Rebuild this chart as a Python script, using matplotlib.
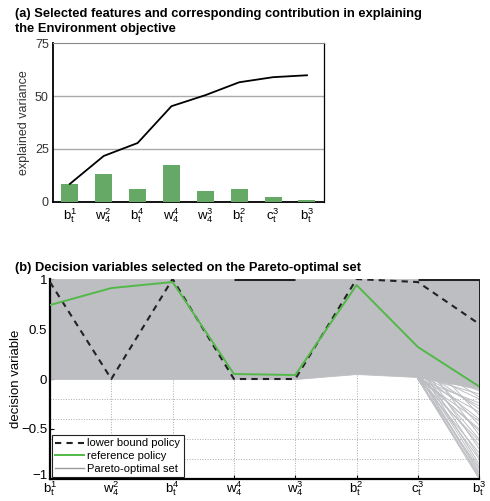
import numpy as np
import matplotlib
matplotlib.use("Agg")
import matplotlib.pyplot as plt
import matplotlib.transforms as mtransforms
from matplotlib.lines import Line2D

plt.rcParams['font.family'] = ['Liberation Sans', 'DejaVu Sans']
plt.rcParams['mathtext.fontset'] = 'custom'
plt.rcParams['mathtext.rm'] = 'Liberation Sans'
plt.rcParams['mathtext.it'] = 'Liberation Sans'

# ---- data -------------------------------------------------------------
features = [r'$\mathrm{b}_t^1$', r'$\mathrm{w}_4^2$', r'$\mathrm{b}_t^4$', r'$\mathrm{w}_4^4$',
            r'$\mathrm{w}_4^3$', r'$\mathrm{b}_t^2$', r'$\mathrm{c}_t^3$', r'$\mathrm{b}_t^3$']
contribution = [8.5, 13.2, 6.1, 17.4, 5.2, 6.1, 2.4, 0.9]

lower_bound = [0.97, 0.0, 1.0, 0.0, 0.0, 1.0, 0.97, 0.55]
reference = [0.74, 0.91, 0.97, 0.05, 0.04, 0.94, 0.32, -0.075]

# envelope of the Pareto-optimal set (dense part)
pareto_upper = [1, 1, 1, 1, 1, 1, 1, 1]
pareto_lower = [0.0, 0.0, 0.0, 0.0, 0.0, 0.05, 0.02, -0.1]
# sparse fan of Pareto lines between c_t^3 and b_t^3
fan_start = [0.0, 0.02, 0.05, 0.0, 0.08, 0.12, 0.03, 0.15, 0.01, 0.2, 0.06, 0.0,
             0.1, 0.25, 0.04, 0.02, 0.18, 0.0, 0.07, 0.3, 0.01, 0.12, 0.05, 0.0,
             0.09, 0.22, 0.03, 0.14, 0.0, 0.06]
fan_end = [-1.0, -0.98, -0.95, -0.9, -0.88, -0.85, -0.8, -0.78, -0.74, -0.7, -0.66,
           -0.62, -0.6, -0.56, -0.52, -0.5, -0.46, -0.42, -0.4, -0.36, -0.33, -0.3,
           -0.27, -0.24, -0.2, -0.18, -0.15, -0.12, -0.97, -0.93]
# segments where many solutions sit on the upper bound
saturated = [(4, 5), (7, 8)]

bar_green = '#66a866'
line_green = '#52b848'
pareto_gray = '#bdbec2'

fig = plt.figure(figsize=(4.9, 5.01), dpi=100)

# ---- (a) --------------------------------------------------------------
ax1 = fig.add_axes([0.108, 0.597, 0.553, 0.317])
pos = np.arange(1, len(features) + 1)
ax1.bar(pos, contribution, width=0.5, color=bar_green, zorder=3)
ax1.plot(pos, np.cumsum(contribution), color='black', lw=1.3, zorder=4)
ax1.set_xlim(0.5, 8.5)
ax1.set_ylim(0, 75)
ax1.set_yticks([0, 25, 50, 75])
ax1.set_xticks(pos)
ax1.set_xticklabels(features, fontsize=9.5)
ax1.tick_params(axis='y', labelsize=9, labelcolor='#333333', length=0, pad=3)
ax1.tick_params(axis='x', length=0, pad=3)
for yv in [25, 50]:
    ax1.axhline(yv, color='#aaaaaa', lw=1, zorder=1)
ax1.spines['top'].set_color('#888888')
ax1.spines['left'].set_linewidth(1.3)
ax1.spines['bottom'].set_linewidth(1.3)
ax1.spines['right'].set_linewidth(0.9)
ax1.set_ylabel('explained variance', fontsize=9, color='#333333')
ax1.yaxis.set_label_coords(-0.085, 0.5)
fig.text(0.03, 0.984, '(a) Selected features and corresponding contribution in explaining\nthe Environment objective',
         fontsize=9.3, fontweight='bold', va='top', ha='left', linespacing=1.3)

# ---- (b) --------------------------------------------------------------
ax2 = fig.add_axes([0.102, 0.044, 0.876, 0.399])
ax2.fill_between(pos, pareto_lower, pareto_upper, color=pareto_gray, lw=0.6,
                 edgecolor=pareto_gray, zorder=2)
for s, e in zip(fan_start, fan_end):
    ax2.plot([7, 8], [s, e], color=pareto_gray, lw=0.7, zorder=2)
for a, b in saturated:
    ax2.plot([a, b], [1, 1], color='#222222', lw=2.2, zorder=2.2, solid_capstyle='butt')
ax2.plot(pos, lower_bound, color='#222222', lw=1.5, ls=(0, (3, 2.5)), zorder=4)
ax2.plot(pos, reference, color=line_green, lw=1.4, zorder=5)

for yv in [-0.2, -0.4, -0.6, -0.8]:
    ax2.axhline(yv, color='#aaaaaa', lw=0.7, ls=':', zorder=1)
for xv in pos[1:-1]:
    ax2.axvline(xv, color='#aaaaaa', lw=0.7, ls=':', zorder=1)

ax2.set_xlim(1, 8)
ax2.set_ylim(-1, 1)
ax2.set_yticks([-1, -0.5, 0, 0.5, 1])
ax2.set_yticklabels(['\u22121', '\u22120.5', '0', '0.5', '1'])
ax2.set_xticks(pos)
ax2.set_xticklabels(features, fontsize=9.5)
ax2.tick_params(axis='y', labelsize=9.5, direction='in', length=3, pad=2)
ax2.tick_params(axis='x', direction='in', length=3, pad=0.5)
# nudge the lowest y label up so it clears the first x label
lab = ax2.get_yticklabels()[0]
lab.set_transform(lab.get_transform() + mtransforms.ScaledTranslation(0, 3 / 72, fig.dpi_scale_trans))
ax2.spines['top'].set_visible(False)
ax2.spines['right'].set_linewidth(0.6)
ax2.spines['left'].set_linewidth(1.6)
ax2.spines['bottom'].set_linewidth(1.6)
ax2.set_ylabel('decision variable', fontsize=9.5)
ax2.yaxis.set_label_coords(-0.065, 0.5)

handles = [Line2D([], [], color='#222222', lw=1.5, ls=(0, (3, 2.5))),
           Line2D([], [], color=line_green, lw=1.4),
           Line2D([], [], color='#999999', lw=1.0)]
leg = ax2.legend(handles, ['lower bound policy', 'reference policy', 'Pareto-optimal set'],
                 loc='lower left', fontsize=8, fancybox=False, framealpha=1,
                 edgecolor='#222222', borderaxespad=0.15, handlelength=2.6,
                 handletextpad=0.3, borderpad=0.3, labelspacing=0.25)
leg.get_frame().set_linewidth(0.8)
leg.set_zorder(10)
fig.text(0.03, 0.478, '(b) Decision variables selected on the Pareto-optimal set',
         fontsize=9.3, fontweight='bold', va='top', ha='left')

fig.savefig('out.png', dpi=100)
